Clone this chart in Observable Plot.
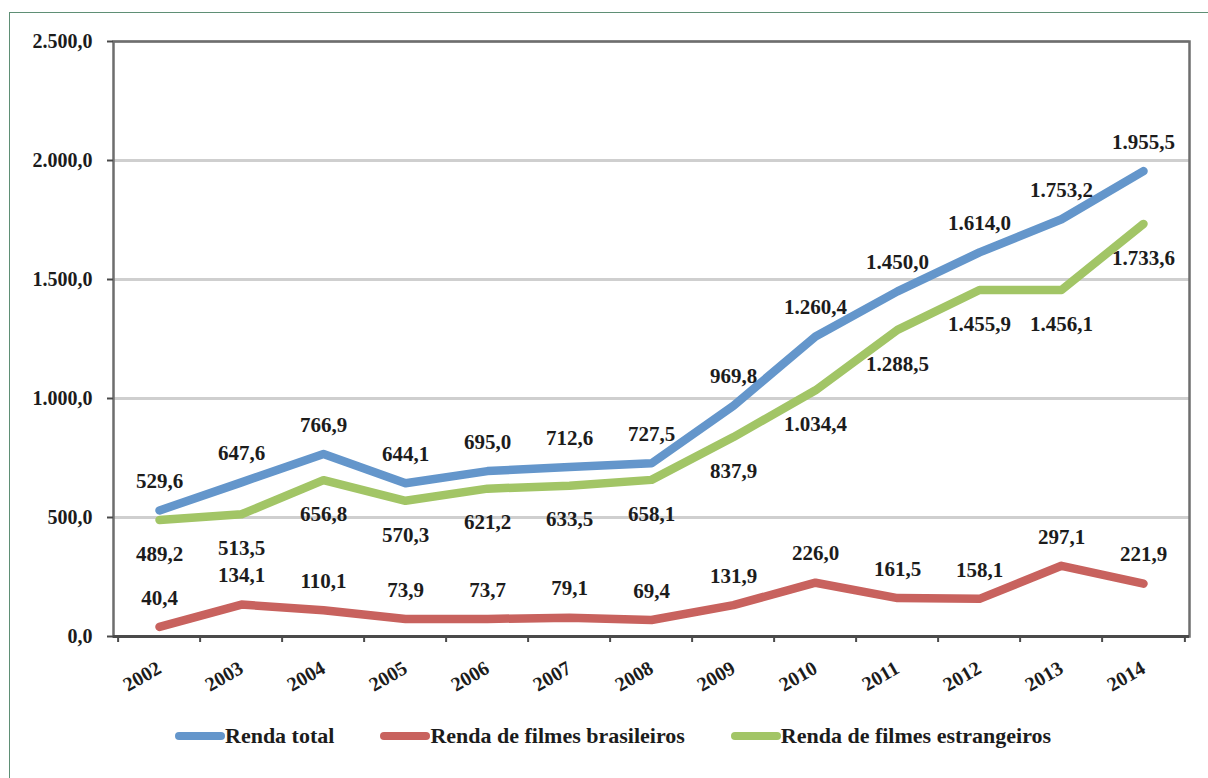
<!DOCTYPE html>
<html>
<head>
<meta charset="utf-8">
<script src="https://cdn.jsdelivr.net/npm/d3@7"></script>
<script src="https://cdn.jsdelivr.net/npm/@observablehq/plot@0.6"></script>
<style>
  html, body { margin: 0; padding: 0; background: #fff; }
  body { width: 1208px; height: 778px; position: relative; overflow: hidden; font-family: "Liberation Serif", "Tinos", "Nimbus Roman", "FreeSerif", "DejaVu Serif", serif; }
  #border { position: absolute; left: 9px; top: 12px; width: 1240px; height: 820px; border: 1.5px solid #5f8f75; box-sizing: border-box; }
  #chart { position: absolute; left: 0; top: 0; }
  #legend { position: absolute; left: 175px; top: 723px; display: flex; align-items: center; gap: 46px; font-weight: bold; font-size: 22px; color: #1c1c1c; }
  .item { display: flex; align-items: center; }
  .sw { width: 50px; height: 8px; border-radius: 4px; }
  #chart svg text { font-family: "Liberation Serif", "Tinos", "Nimbus Roman", "FreeSerif", "DejaVu Serif", serif; }
</style>
</head>
<body>
<div id="border"></div>
<div id="chart"></div>
<div id="legend"></div>
<script>
const years = ["2002","2003","2004","2005","2006","2007","2008","2009","2010","2011","2012","2013","2014"];
const rendaTotal = [529.6, 647.6, 766.9, 644.1, 695.0, 712.6, 727.5, 969.8, 1260.4, 1450.0, 1614.0, 1753.2, 1955.5];
const rendaBrasileiros = [40.4, 134.1, 110.1, 73.9, 73.7, 79.1, 69.4, 131.9, 226.0, 161.5, 158.1, 297.1, 221.9];
const rendaEstrangeiros = [489.2, 513.5, 656.8, 570.3, 621.2, 633.5, 658.1, 837.9, 1034.4, 1288.5, 1455.9, 1456.1, 1733.6];
const seriesNames = ["Renda total", "Renda de filmes brasileiros", "Renda de filmes estrangeiros"];
const seriesColors = ["#6496cb", "#c8625e", "#a2c566"];
const yTicks = [0, 500, 1000, 1500, 2000, 2500];

const ptBR = d3.formatLocale({decimal: ",", thousands: ".", grouping: [3], currency: ["R$ ", ""]});
const fmt = ptBR.format(",.1f");

const seriesValues = [rendaTotal, rendaBrasileiros, rendaEstrangeiros];
const data = seriesNames.flatMap((s, i) => years.map((y, j) => ({serie: s, year: y, value: seriesValues[i][j], idx: i})));

const W = 1208, H = 700;
const mL = 113, mR = 19, mT = 41, mB = 64;
const step = (W - mL - mR) / years.length;
const font = "'Liberation Serif', Tinos, 'Nimbus Roman', FreeSerif, 'DejaVu Serif', serif";
const txt = "#1c1c1c";

const labelDy = [-29, -29, 34];

const chart = Plot.plot({
  width: W, height: H,
  marginLeft: mL, marginRight: mR, marginTop: mT, marginBottom: mB,
  style: {fontFamily: font, fontWeight: "bold", fontSize: "20px", color: txt, background: "transparent"},
  x: {type: "point", domain: years, padding: 0.5, label: null},
  y: {domain: [0, 2500], ticks: yTicks, label: null, tickFormat: fmt},
  color: {domain: seriesNames, range: seriesColors},
  marks: [
    Plot.gridY(yTicks, {stroke: "#cfcfcf", strokeOpacity: 1, strokeWidth: 3}),
    Plot.frame({stroke: "#6e6e6e", strokeWidth: 2.5}),
    Plot.axisY(yTicks, {tickSize: 6, tickPadding: 15, tickFormat: fmt, stroke: "#4a4a4a", strokeWidth: 2, fontSize: 20, fontWeight: "bold", fill: txt, label: null}),
    Plot.axisX(years, {tickSize: 0, tickPadding: 30, tickRotate: -30, fontSize: 20, fontWeight: "bold", fill: txt, label: null}),
    Plot.axisX(years, {tickSize: 6, tickFormat: () => "", dx: -step / 2, stroke: "#4a4a4a", strokeWidth: 2, label: null}),
    Plot.axisX([years[years.length - 1]], {tickSize: 6, tickFormat: () => "", dx: step / 2, stroke: "#4a4a4a", strokeWidth: 2, label: null}),
    Plot.ruleY([0], {stroke: "#4a4a4a", strokeWidth: 3}),
    Plot.line(data, {x: "year", y: "value", z: "serie", stroke: "serie", strokeWidth: 8.5, strokeLinecap: "round", strokeLinejoin: "round"}),
    ...seriesNames.map((s, i) => Plot.text(data.filter(d => d.idx === i), {
      x: "year", y: "value", text: d => fmt(d.value), dy: labelDy[i],
      lineAnchor: "middle", textAnchor: "middle", fontSize: 21, fontWeight: "bold", fill: txt
    }))
  ]
});
document.getElementById("chart").appendChild(chart);

const legend = document.getElementById("legend");
seriesNames.forEach((s, i) => {
  const it = document.createElement("div");
  it.className = "item";
  const sw = document.createElement("div");
  sw.className = "sw";
  sw.style.background = seriesColors[i];
  const t = document.createElement("span");
  t.textContent = s;
  it.appendChild(sw);
  it.appendChild(t);
  legend.appendChild(it);
});
</script>
</body>
</html>
